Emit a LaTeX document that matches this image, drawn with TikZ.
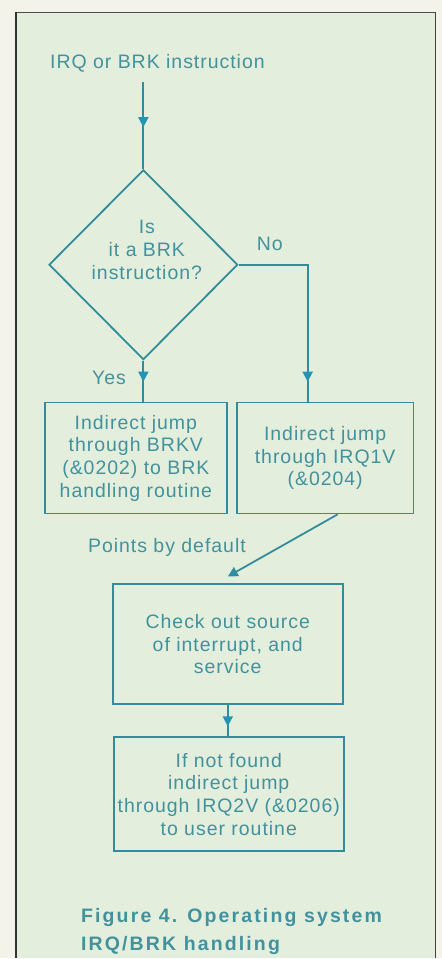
\documentclass[tikz,border=0pt]{standalone}
\usepackage{fontspec}
\setmainfont{Liberation Sans}[LetterSpace=5]
\newfontfamily\capfont{Liberation Sans}[LetterSpace=11]
\usetikzlibrary{shapes.geometric, arrows.meta, decorations.markings}

\definecolor{paper}{RGB}{244,243,234}
\definecolor{panel}{RGB}{228,238,220}
\definecolor{ink}{RGB}{50,140,155}
\definecolor{inktext}{RGB}{66,146,158}
\definecolor{tipfill}{RGB}{36,148,180}

\tikzset{
  wire/.style={draw=ink, line width=1.8pt},
  txt/.style={text=inktext, font=\fontsize{19.5}{22.7}\selectfont, inner sep=0pt},
  box/.style={draw=ink, line width=1.8pt, txt, align=center},
  tipat/.style={decoration={markings,
      mark=at position #1 with {\arrow[tipfill]{Triangle[width=10pt,length=10pt]}}},
    postaction=decorate}
}

\begin{document}
\begin{tikzpicture}[x=1pt, y=-1pt]
% --- page and frame ---
\fill[paper] (0,0) rectangle (442,959);
\fill[panel] (16,12) rectangle (436,959);
\draw[black!70, line width=0.8pt] (16,12) -- (436,12);
\draw[black!80, line width=2pt] (16,12) -- (16,959);
\draw[black!75, line width=1.6pt] (436,12) -- (436,959);
\useasboundingbox (0,0) rectangle (442,959);

% --- nodes ---
\node[txt, anchor=base west] (start) at (50,69) {IRQ or BRK instruction};
\coordinate (top) at (143.5,82);
\node[draw=ink, line width=1.8pt, diamond, minimum width=189pt,
      minimum height=190pt, inner sep=0pt] (q) at (143.5,265) {};
\node[txt, align=center] (qtext) at (147,250) {Is\\it a BRK\\instruction?};
\node[txt, anchor=base west] (no) at (257,251) {No};
\node[txt, anchor=base west] (yes) at (92,385) {Yes};
\coordinate (nobend) at (308,265);

\node[box, minimum width=182pt, minimum height=111pt] (brk) at (136,458.5)
  {Indirect jump\\through BRKV\\(\&0202) to BRK\\handling routine};
\node[box, minimum width=177pt, minimum height=111pt] (irq) at (325.5,458.5)
  {Indirect jump\\through IRQ1V\\(\&0204)};
\node[txt, anchor=base west] (dflt) at (88,553) {Points by default};
\node[box, minimum width=230pt, minimum height=120pt] (check) at (228,645)
  {Check out source\\of interrupt, and\\service};
\node[box, minimum width=230pt, minimum height=114pt] (user) at (229,795)
  {If not found\\indirect jump\\through IRQ2V (\&0206)\\to user routine};

% --- connectors ---
\draw[wire, tipat=0.52] (top) -- (q.north);
\draw[wire, tipat={-20pt}] (q.south) -- (brk.north -| q.south);
\draw[wire, tipat={-20pt}] (q.east) -- (nobend) -- (irq.north -| nobend);
\draw[wire, -{Triangle[width=10pt,length=10pt,fill=tipfill]}]
  ([xshift=12.5pt]irq.south) -- ([yshift=7pt]check.north);
\draw[wire, tipat={-10pt}] (check.south) -- (user.north -| check.south);

% --- caption ---
\node[anchor=base west, text=inktext, inner sep=0pt, align=left,
      font=\capfont\bfseries\fontsize{19.5}{28}\selectfont] (cap) at (81,951)
  {Figure 4. Operating system\\IRQ/BRK handling};
\end{tikzpicture}
\end{document}
